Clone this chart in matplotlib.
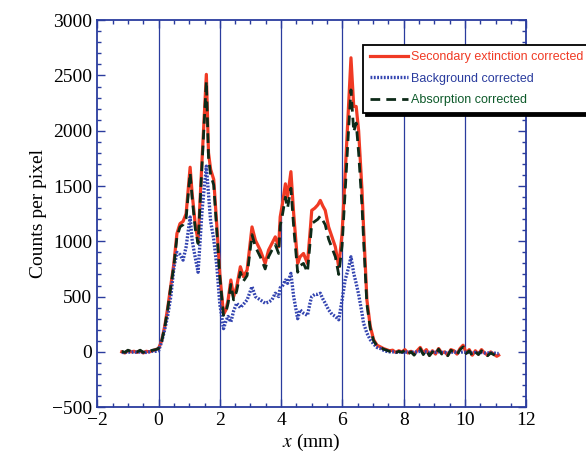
import matplotlib
matplotlib.use('Agg')
import matplotlib.pyplot as plt
import numpy as np
from matplotlib.ticker import MultipleLocator

# position along the sample (mm)
x_left = [-1.2, -1.1, -1.0, -0.9, -0.8, -0.7, -0.6, -0.5, -0.4, -0.3, -0.2, -0.1]
x_mid = [0.0, 0.1, 0.2, 0.3, 0.4, 0.5, 0.6, 0.7, 0.8, 0.9, 1.03, 1.1, 1.2, 1.29,
         1.42, 1.56, 1.63, 1.7, 1.8, 1.9, 2.0, 2.12, 2.2, 2.27, 2.36, 2.45, 2.55,
         2.67, 2.77, 2.89, 3.05, 3.16, 3.32, 3.48, 3.59, 3.7, 3.81, 3.92, 3.97,
         4.05, 4.14, 4.21, 4.32, 4.41, 4.54, 4.62, 4.73, 4.86, 4.95, 5.0, 5.1,
         5.2, 5.28, 5.36, 5.44, 5.55, 5.66, 5.77, 5.88, 5.99, 6.09, 6.2, 6.28,
         6.37, 6.45, 6.53, 6.64, 6.69, 6.8, 6.91, 7.02, 7.13]
x_right = [7.24, 7.34, 7.44, 7.54, 7.64, 7.74, 7.84, 7.94, 8.04, 8.14, 8.24, 8.34,
           8.44, 8.54, 8.64, 8.74, 8.84, 8.94, 9.04, 9.14, 9.24, 9.34, 9.44, 9.54,
           9.64, 9.74, 9.84, 9.94, 10.04, 10.14, 10.24, 10.34, 10.44, 10.54,
           10.64, 10.74, 10.84, 10.94, 11.04, 11.1]

# secondary extinction corrected
sec_left = [0, -10, 10, 0, 5, -5, 10, -10, 5, 0, 10, 20]
sec_mid = [30, 100, 230, 400, 600, 800, 1070, 1160, 1180, 1250, 1670, 1420, 1150,
           1000, 1740, 2510, 1800, 1650, 1560, 1150, 700, 340, 380, 470, 650, 500,
           590, 770, 680, 740, 1130, 1010, 920, 800, 920, 980, 1040, 950, 1220,
           1350, 1520, 1400, 1630, 1250, 800, 860, 890, 800, 1100, 1280, 1300,
           1330, 1370, 1320, 1280, 1130, 1040, 950, 770, 1070, 1610, 2220, 2660,
           2220, 2220, 2000, 1460, 1130, 470, 230, 110, 60]
sec_right = [45, 30, 20, 10, 15, -5, 10, 0, 20, -10, 5, -20, 10, 40, -10, 20, -30,
             10, -20, 30, -10, 0, -30, 20, 10, -20, 30, 60, -10, 20, -30, 10, -20,
             20, -10, -30, 0, -20, -40, -30]

# background corrected
bg_left = [-5, -5, 0, -5, 0, -5, 0, -5, -5, 0, 5, 5]
bg_mid = [10, 90, 200, 330, 500, 760, 900, 880, 830, 950, 1220, 1000, 850, 720,
          1280, 1680, 1430, 1180, 1020, 780, 430, 210, 280, 320, 270, 370, 440,
          400, 430, 470, 590, 500, 470, 440, 450, 470, 530, 500, 580, 600, 650,
          620, 710, 500, 300, 380, 350, 330, 450, 500, 520, 520, 530, 480, 440,
          380, 340, 320, 290, 470, 650, 760, 860, 710, 620, 520, 350, 260, 170,
          110, 70, 40]
bg_right = [30, 15, 5, 0, 0, -5, 0, -5, 0, -5, 0, -5, 0, 5, -5, 0, -5, 0, -5, 0,
            -5, -5, -10, -5, 0, -5, -5, 0, -5, -5, -10, -5, -10, -5, -10, -10,
            -10, -10, -15, -15]

# absorption corrected
abs_left = [5, -5, 15, 5, 0, 0, 15, -5, 10, 5, 15, 20]
abs_mid = [30, 95, 220, 390, 590, 780, 1040, 1130, 1150, 1210, 1620, 1380, 1110,
           980, 1700, 2450, 1760, 1600, 1510, 1100, 680, 330, 360, 440, 610, 470,
           550, 720, 640, 690, 1060, 950, 860, 750, 860, 920, 970, 890, 1140,
           1250, 1400, 1300, 1480, 1130, 720, 780, 800, 720, 1000, 1160, 1180,
           1200, 1230, 1190, 1150, 1020, 940, 860, 700, 960, 1450, 2000, 2370,
           1990, 2070, 1800, 1320, 1020, 430, 210, 100, 55]
abs_right = [40, 25, 15, 5, 10, -10, 5, -5, 15, -20, 0, -30, 5, 30, -25, 15, -35,
             0, -25, 25, -20, -5, -35, 15, 0, -25, 20, 45, -15, 10, -35, 0, -25,
             10, -20, -35, -10, -25, -40, -35]

x = x_left + x_mid + x_right
sec = sec_left + sec_mid + sec_right
bg = bg_left + bg_mid + bg_right
absc = abs_left + abs_mid + abs_right

blue = '#2a3c9e'
plt.rcParams['mathtext.fontset'] = 'stix'

fig = plt.figure(figsize=(5.86, 4.59), dpi=100)
ax = fig.add_axes([0.166, 0.113, 0.732, 0.843])

for gx in [0, 2, 4, 6, 8, 10]:
    ax.axvline(gx, color=blue, lw=0.9, zorder=1)

ax.plot(x, sec, color='#f03a24', lw=2.3, label='Secondary extinction corrected', zorder=3)
ax.plot(x, bg, color='#3344b0', lw=2.4, ls=(0, (0.55, 0.45)), label='Background corrected', zorder=3)
ax.plot(x, absc, color='#0d2a18', lw=2.0, ls=(0, (3.5, 2.2)), label='Absorption corrected', zorder=4)

ax.set_xlim(-2, 12)
ax.set_ylim(-500, 3000)
ax.xaxis.set_major_locator(MultipleLocator(2))
ax.xaxis.set_minor_locator(MultipleLocator(0.5))
ax.yaxis.set_major_locator(MultipleLocator(500))
ax.yaxis.set_minor_locator(MultipleLocator(100))
ax.tick_params(which='both', direction='in', top=True, right=True, color=blue)
ax.tick_params(which='major', length=6, width=1)
ax.tick_params(which='minor', length=3, width=1)
for sp in ax.spines.values():
    sp.set_color(blue)
    sp.set_linewidth(1.3)

for lab in ax.get_xticklabels() + ax.get_yticklabels():
    lab.set_fontfamily('Liberation Serif')
    lab.set_fontsize(14)

ax.set_xlabel('$x$ (mm)', fontfamily='Liberation Serif', fontsize=14, labelpad=2)
ax.set_ylabel('Counts per pixel', fontfamily='Liberation Serif', fontsize=14)

leg = ax.legend(loc='upper left', bbox_to_anchor=(0.62, 0.937), fancybox=False,
                shadow={'color': 'black', 'alpha': 1}, framealpha=1,
                prop={'family': 'Liberation Sans', 'size': 9},
                handlelength=3.0, handletextpad=0.3, borderpad=0.55,
                labelspacing=0.75, borderaxespad=0)
leg.get_frame().set_edgecolor('black')
leg.get_frame().set_linewidth(1.3)
for txt, c in zip(leg.get_texts(), ['#f03a24', '#2a3c9e', '#0d5a2a']):
    txt.set_color(c)

fig.savefig('out.png', dpi=100)
